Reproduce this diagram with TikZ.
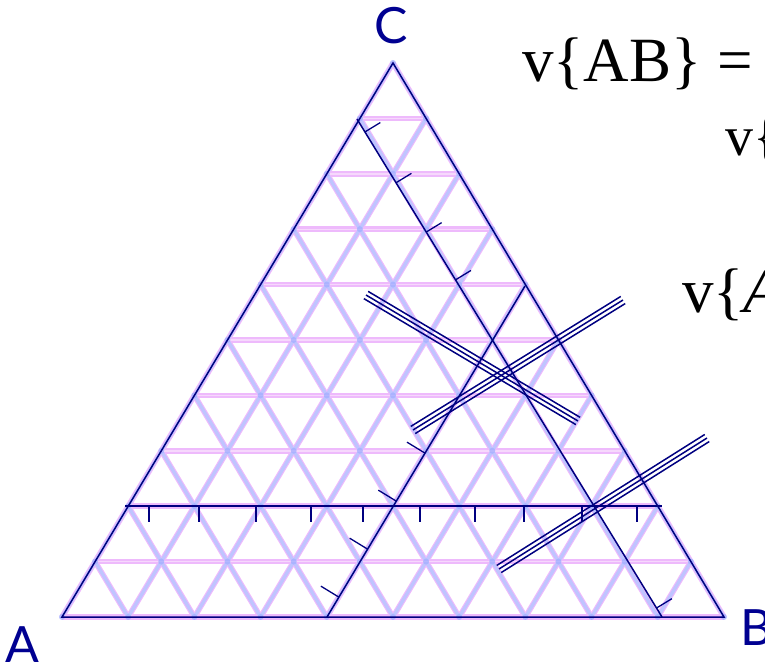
\documentclass[tikz,border=0pt]{standalone}
\usepackage{fontspec}
\setmainfont{Liberation Serif}
\newfontfamily\labelfont{Lato}
\usepackage{tikz}
\usetikzlibrary{calc}
\definecolor{navyline}{rgb}{0.00,0.00,0.50}
\definecolor{labelblue}{rgb}{0.00,0.00,0.57}
\definecolor{gridpink}{RGB}{238,186,252}
\definecolor{gridblue}{RGB}{192,196,255}
\definecolor{gridspot}{RGB}{165,175,255}
\definecolor{hpink}{RGB}{246,216,252}

\tikzset{
  gridhalo/.style={draw=gridpink, line width=5.6pt},
  gridcore/.style={draw=gridblue, line width=3.4pt},
  hcore/.style={draw=hpink, line width=1.4pt},
  gridnode/.style={fill=gridspot, opacity=0.8},
  darkline/.style={draw=navyline, line width=1.5pt},
  tickmark/.style={draw=navyline, line width=1.3pt},
  vertexlabel/.style={text=labelblue, inner sep=0pt,
    font=\labelfont\fontsize{50}{50}\selectfont},
  formula/.style={inner sep=0pt, anchor=base west,
    font=\fontsize{63}{63}\selectfont}
}

\newcommand{\tripleline}[2]{%
  \draw[darkline] (#1) -- (#2);
  \draw[darkline] ($(#1)!4.2pt!90:(#2)$) -- ($(#2)!4.2pt!-90:(#1)$);
  \draw[darkline] ($(#1)!4.2pt!-90:(#2)$) -- ($(#2)!4.2pt!90:(#1)$);
}

\begin{document}
\begin{tikzpicture}[x=1pt,y=-1pt]
  \useasboundingbox (0,0) rectangle (765,666);
  \clip (0,0) rectangle (765,666);

  \coordinate (A) at (62,617);
  \coordinate (B) at (724,617);
  \coordinate (C) at (393,63);

  % lattice, ten steps per side
  \foreach \k in {0,...,10} {
    \draw[gridhalo] ($(A)!\k/10!(C)$) -- ($(B)!\k/10!(C)$);
    \draw[gridhalo] ($(A)!\k/10!(B)$) -- ($(C)!\k/10!(B)$);
    \draw[gridhalo] ($(A)!\k/10!(B)$) -- ($(A)!\k/10!(C)$);
  }
  \foreach \k in {0,...,10} {
    \draw[gridcore] ($(A)!\k/10!(B)$) -- ($(C)!\k/10!(B)$);
    \draw[gridcore] ($(A)!\k/10!(B)$) -- ($(A)!\k/10!(C)$);
  }
  \foreach \k in {1,...,9}
    \draw[hcore] ($(A)!\k/10!(C)$) -- ($(B)!\k/10!(C)$);
  \foreach \i in {0,...,10}
    \foreach \j in {0,...,10} {
      \pgfmathtruncatemacro\w{10-\i-\j}
      \ifnum\w<0\relax\else
        \fill[gridnode] (barycentric cs:A=\w,B=\i,C=\j) circle (3pt);
      \fi
    }

  % outline
  \draw[darkline] (A) -- (B) -- (C) -- cycle;

  % line parallel to AB with its ticks
  \coordinate (abL) at (125,506);
  \coordinate (abR) at (662,506);
  \draw[darkline] (abL) -- (abR);
  \foreach \x in {149,199,256,311,363,420,475,524,582,637}
    \draw[tickmark] (\x,506) -- ++(0,16);

  % line parallel to AC with its ticks
  \coordinate (acB) at (327,617);
  \coordinate (acT) at (525,286);
  \draw[darkline] (acB) -- (acT);
  \foreach \t in {0.06,0.205,0.35,0.495}
    \draw[tickmark] ($(acB)!\t!(acT)$) -- ++(-18,-11);

  % line parallel to BC with its ticks
  \coordinate (bcT) at (357,119);
  \coordinate (bcB) at (662,617);
  \draw[darkline] (bcT) -- (bcB);
  \foreach \t in {0.026,0.128,0.227,0.323,0.982}
    \draw[tickmark] ($(bcT)!\t!(bcB)$) -- ++(15.4,-9.4);

  % triple lines
  \coordinate (tA1) at (366,295);
  \coordinate (tA2) at (578,421);
  \coordinate (tB1) at (413,430);
  \coordinate (tB2) at (623,300);
  \coordinate (tC1) at (499,569);
  \coordinate (tC2) at (707,438);
  \tripleline{tA1}{tA2}
  \tripleline{tB1}{tB2}
  \tripleline{tC1}{tC2}

  % corner labels
  \node[vertexlabel, anchor=base] (labC) at (391,44) {C};
  \node[vertexlabel, anchor=base] (labA) at (22,662) {A};
  \node[vertexlabel, anchor=base west] (labB) at (740,645) {B};

  % formulas, cut off at the right edge
  \node[formula] (vAB) at (522,82) {v\{AB\} =};
  \node[formula, font=\fontsize{56}{56}\selectfont] (vsecond) at (725,155) {v\{};
  \node[formula] (vthird) at (682,312) {v\{\textit{A}};
\end{tikzpicture}
\end{document}
